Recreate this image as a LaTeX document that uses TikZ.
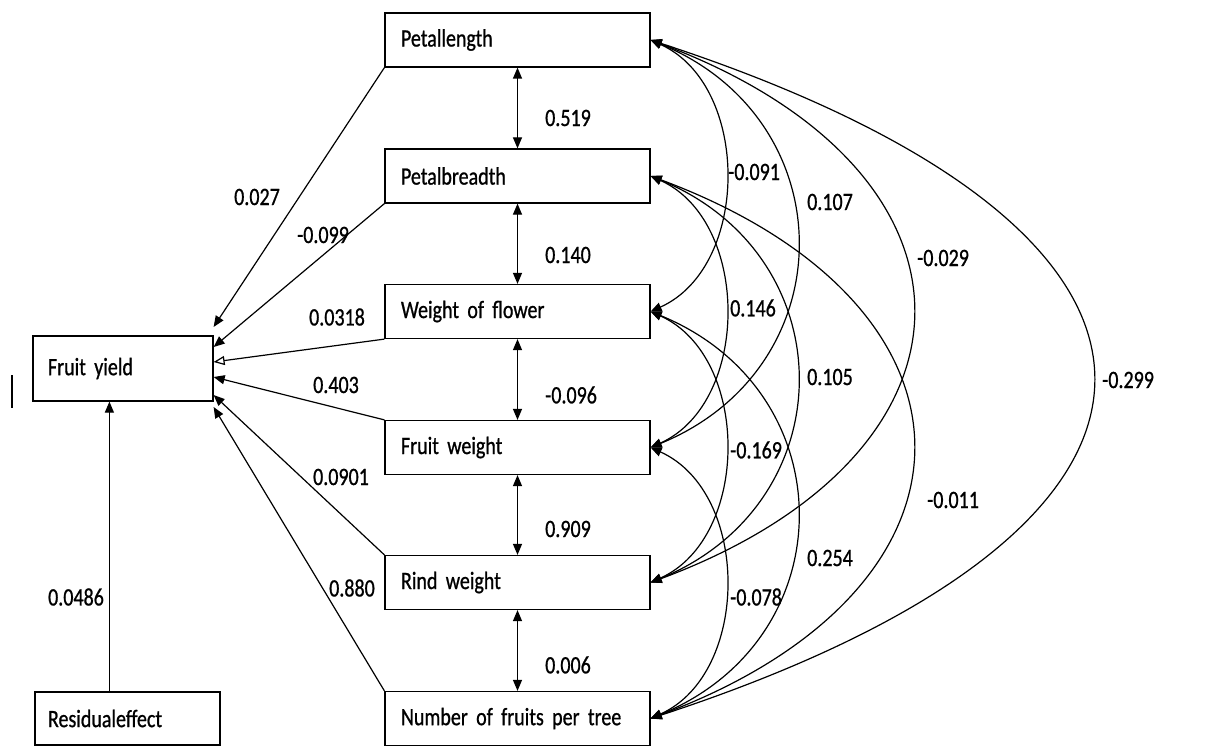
\documentclass[tikz,border=0pt]{standalone}
\usepackage{fontspec}
\setmainfont{Carlito}[FakeStretch=0.8,FakeBold=0.8]
\usetikzlibrary{arrows.meta,calc}
\begin{document}
\begin{tikzpicture}[x=1pt,y=-1pt,
  every node/.style={font=\fontsize{25}{28}\selectfont},
  box/.style={draw,line width=1.2pt,minimum height=54pt,inner xsep=16pt,text width=233pt,align=left},
  lbl/.style={inner sep=0pt},
  conn/.style={line width=1.2pt},
  >={Triangle[length=11pt,width=9pt]}]
\useasboundingbox (0,0) rectangle (1217,746);
% middle column
\node[box] (pl) at (517.5,40) {Petallength};
\node[box] (pb) at (517.5,176) {Petalbreadth};
\node[box] (wf) at (517.5,311.5) {Weight of flower};
\node[box] (fw) at (517.5,447.5) {Fruit weight};
\node[box] (rw) at (517.5,582.5) {Rind weight};
\node[box] (nf) at (517.5,718.5) {Number of fruits per tree};
% left column
\node[draw,line width=1.2pt,minimum height=65pt,inner xsep=15pt,text width=150pt,align=left] (fy) at (123,368.5) {Fruit yield};
\node[draw,line width=1.2pt,minimum height=53pt,inner xsep=13pt,text width=159pt,align=left] (rs) at (127.5,718.5) {Residualeffect};
\draw[line width=2pt] (12,375) -- (12,408);
% residual
\draw[conn,->] ($(rs.north west)+(75,0)$) -- ($(fy.south west)+(77,0)$);
% vertical correlations
\draw[conn,<->] (pl.south) -- (pb.north);
\draw[conn,<->] (pb.south) -- (wf.north);
\draw[conn,<->] (wf.south) -- (fw.north);
\draw[conn,<->] (fw.south) -- (rw.north);
\draw[conn,<->] (rw.south) -- (nf.north);
% direct effects
\draw[conn,->] (pl.south west) -- ($(fy.east)+(0,-41.5)$);
\draw[conn,->] (pb.south west) -- ($(fy.east)+(0,-21.5)$);
\draw[conn,-{Triangle[open,length=11pt,width=9pt]}] (wf.south west) -- ($(fy.east)+(0,-6.5)$);
\draw[conn,->] (fw.north west) -- ($(fy.east)+(0,8.5)$);
\draw[conn,->] (rw.north west) -- ($(fy.east)+(0,26.5)$);
\draw[conn,->] (nf.north west) -- ($(fy.east)+(0,38.5)$);
% curved correlations
\draw[conn,<->] (pl.east) .. controls +(100,45) and +(100,-45) .. (wf.east);
\draw[conn,<->] (pb.east) .. controls +(100,45) and +(100,-45) .. (fw.east);
\draw[conn,<->] (wf.east) .. controls +(100,45) and +(100,-45) .. (rw.east);
\draw[conn,<->] (fw.east) .. controls +(100,45) and +(100,-45) .. (nf.east);
\draw[conn,<->] (pl.east) .. controls +(195,80) and +(195,-80) .. (fw.east);
\draw[conn,<->] (pb.east) .. controls +(195,80) and +(195,-80) .. (rw.east);
\draw[conn,<->] (wf.east) .. controls +(195,80) and +(195,-80) .. (nf.east);
\draw[conn,<->] (pl.east) .. controls +(349,130) and +(349,-130) .. (rw.east);
\draw[conn,<->] (pb.east) .. controls +(349,130) and +(349,-130) .. (nf.east);
\draw[conn,<->] (pl.east) .. controls +(589,193) and +(589,-193) .. (nf.east);
% labels vertical
\node[lbl,anchor=west] (v1) at (545,118) {0.519};
\node[lbl,anchor=west] (v2) at (545,255) {0.140};
\node[lbl,anchor=west] (v3) at (545,395) {-0.096};
\node[lbl,anchor=west] (v4) at (545,529) {0.909};
\node[lbl,anchor=west] (v5) at (545,665) {0.006};
% labels direct
\node[lbl] (d1) at (257,197) {0.027};
\node[lbl] (d2) at (323,235) {-0.099};
\node[lbl] (d3) at (337,317) {0.0318};
\node[lbl] (d4) at (336,385) {0.403};
\node[lbl] (d5) at (341,477) {0.0901};
\node[lbl] (d6) at (352,588) {0.880};
\node[lbl] (d7) at (76,597) {0.0486};
% labels curves
\node[lbl,anchor=west] (c1) at (728,172) {-0.091};
\node[lbl,anchor=west] (c2) at (807,202) {0.107};
\node[lbl,anchor=west] (c3) at (917,258) {-0.029};
\node[lbl,anchor=west] (c4) at (1102,380) {-0.299};
\node[lbl,anchor=west] (c5) at (730,308) {0.146};
\node[lbl,anchor=west] (c6) at (807,377) {0.105};
\node[lbl,anchor=west] (c7) at (927,500) {-0.011};
\node[lbl,anchor=west] (c8) at (730,450) {-0.169};
\node[lbl,anchor=west] (c9) at (807,558) {0.254};
\node[lbl,anchor=west] (c10) at (730,597) {-0.078};
\end{tikzpicture}
\end{document}
